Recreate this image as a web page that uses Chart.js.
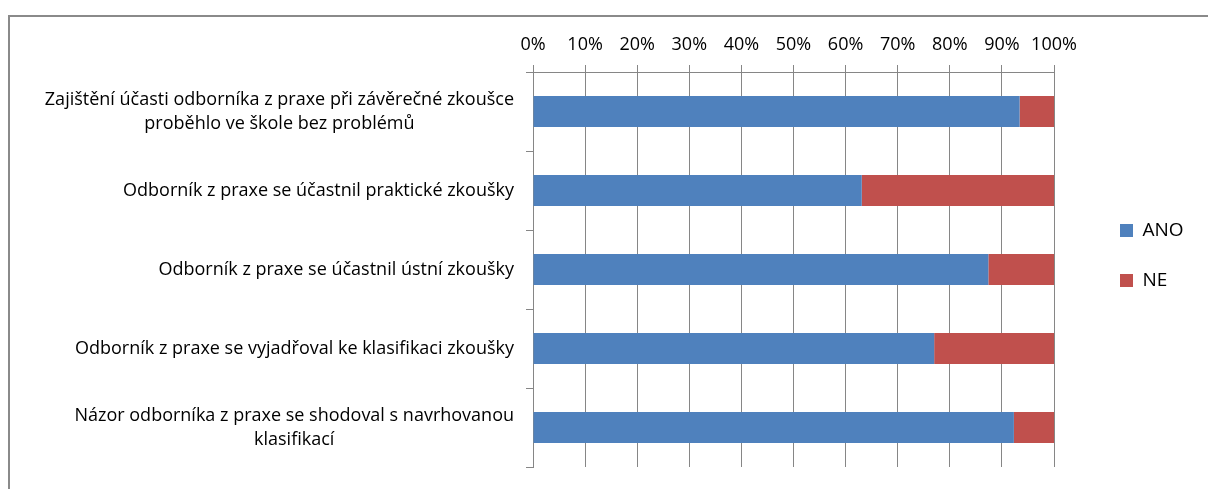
<!DOCTYPE html>
<html>
<head>
<meta charset="utf-8">
<script src="https://cdn.jsdelivr.net/npm/chart.js@4.4.1/dist/chart.umd.min.js"></script>
<style>
  html, body { margin: 0; padding: 0; background: #fff; }
  #wrap { position: relative; width: 1208px; height: 489px; overflow: hidden; }
  #frame { position: absolute; left: 8px; top: 15px; width: 1300px; height: 600px; border: 2px solid #8a8a8a; box-sizing: border-box; }
  #c { position: absolute; left: 0; top: 0; }
</style>
</head>
<body>
<div id="wrap">
  <div id="frame"></div>
  <canvas id="c" width="1208" height="489"></canvas>
</div>
<script>
// categories (wrapped the same way as in the original)
const categories = [
  ['Zajištění účasti odborníka z praxe při závěrečné zkoušce', 'proběhlo ve škole bez problémů'],
  ['Odborník z praxe se účastnil praktické zkoušky'],
  ['Odborník z praxe se účastnil ústní zkoušky'],
  ['Odborník z praxe se vyjadřoval ke klasifikaci zkoušky'],
  ['Názor odborníka z praxe se shodoval s navrhovanou', 'klasifikací']
];
// percentages
const ano = [93.4, 63.1, 87.4, 77.0, 92.3];
const ne = [6.6, 36.9, 12.6, 23.0, 7.7];
const xTicks = [0, 10, 20, 30, 40, 50, 60, 70, 80, 90, 100];

const FONT = '"Open Sans", sans-serif';
const GRID = '#868686';

// y labels: right aligned block, lines centred inside it (like Excel)
const yLabels = {
  id: 'yLabels',
  afterDraw(chart) {
    const ctx = chart.ctx;
    const ys = chart.scales.y;
    ctx.save();
    ctx.font = '18px ' + FONT;
    ctx.fillStyle = '#000';
    ctx.textAlign = 'center';
    ctx.textBaseline = 'middle';
    const lh = 24;
    const right = ys.right - 19;
    categories.forEach((lines, i) => {
      const w = Math.max(...lines.map(l => ctx.measureText(l).width));
      const cx = right - w / 2;
      const cy = ys.getPixelForValue(i);
      const y0 = cy - (lines.length - 1) * lh / 2;
      lines.forEach((l, k) => ctx.fillText(l, cx, y0 + k * lh));
    });
    ctx.restore();
  }
};

// legend box: fixed width, items pushed to the right like the original
const legendPlace = {
  id: 'legendPlace',
  afterInit(chart) {
    const lg = chart.legend;
    const fit = lg.fit;
    lg.fit = function () { fit.call(this); this.width = 154; };
  },
  afterLayout(chart) {
    const lg = chart.legend;
    lg.left = 1089;
    lg.top += 22;
    lg.bottom += 22;
  }
};

new Chart(document.getElementById('c'), {
  type: 'bar',
  data: {
    labels: categories,
    datasets: [
      { label: 'ANO', data: ano, backgroundColor: '#4F81BD', borderWidth: 0 },
      { label: 'NE', data: ne, backgroundColor: '#C0504D', borderWidth: 0 }
    ]
  },
  options: {
    indexAxis: 'y',
    responsive: false,
    animation: false,
    devicePixelRatio: 1,
    layout: { padding: { top: 0, left: 0, right: 0, bottom: 22 } },
    datasets: { bar: { categoryPercentage: 1, barPercentage: 0.395 } },
    scales: {
      x: {
        position: 'top',
        stacked: true,
        min: 0,
        max: 100,
        afterBuildTicks(s) { s.ticks = xTicks.map(v => ({ value: v })); },
        afterFit(s) { s.height = 72; },
        ticks: {
          callback: v => v + '%',
          color: '#000',
          padding: 9,
          maxRotation: 0,
          font: { family: FONT, size: 18 }
        },
        grid: { color: GRID, lineWidth: 1, tickLength: 7, drawTicks: true },
        border: { color: GRID, width: 1 }
      },
      y: {
        stacked: true,
        afterFit(s) { s.width = 533; },
        ticks: { display: false },
        grid: { color: GRID, drawOnChartArea: false, tickLength: 7, offset: true },
        border: { color: GRID, width: 1 }
      }
    },
    plugins: {
      tooltip: { enabled: false },
      legend: {
        position: 'right',
        labels: {
          boxWidth: 13,
          boxHeight: 13,
          padding: 31,
          color: '#000',
          font: { family: FONT, size: 19 }
        }
      }
    }
  },
  plugins: [yLabels, legendPlace]
});
</script>
</body>
</html>
